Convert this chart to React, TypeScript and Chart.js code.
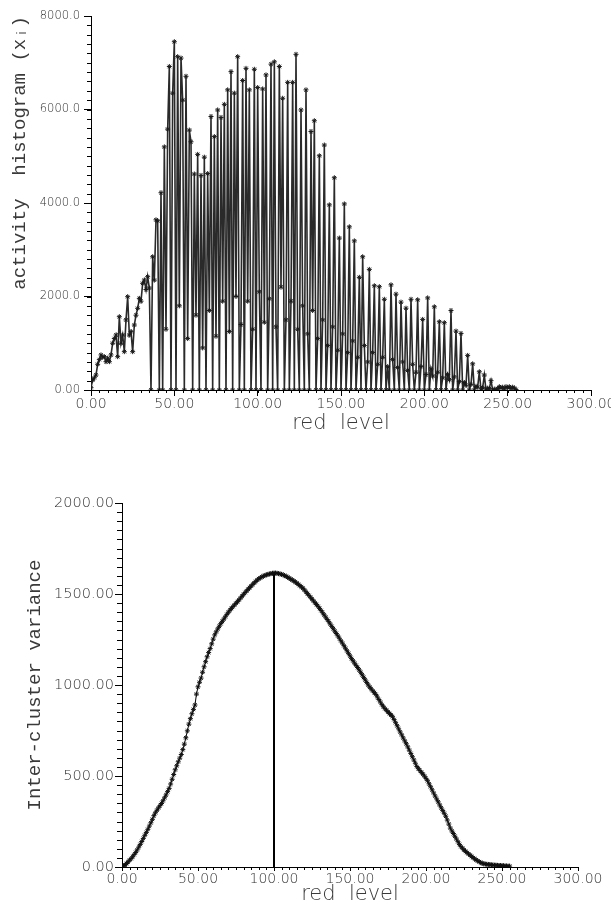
import React, { useEffect, useRef } from 'react';
import { Chart, registerables } from 'chart.js';

Chart.register(...registerables);

// ---- data -------------------------------------------------------------
// activity histogram of the red channel (levels 0..255)
const histogram: number[] = [
  50, 210, 260, 320, 550, 650, 750, 700, 713, 606,
  680, 606, 750, 1000, 1100, 1176, 713, 1568, 1000, 1176,
  820, 1500, 1996, 1176, 1248, 820, 1390, 1600, 1747, 1960,
  1900, 2282, 2353, 2150, 2424, 2181, 0, 2850, 2350, 3640,
  3620, 0, 4220, 0, 5200, 1300, 5580, 6920, 0, 6350,
  7450, 0, 7130, 1800, 7100, 6200, 0, 6710, 1100, 5560,
  5310, 0, 4620, 1600, 5040, 0, 4590, 900, 4980, 0,
  4630, 1700, 5850, 0, 5420, 1150, 5990, 0, 5830, 1900,
  6110, 0, 6420, 1250, 6810, 0, 6350, 2000, 7130, 0,
  1400, 6620, 0, 6880, 1900, 6420, 0, 1300, 6860, 0,
  6470, 2100, 0, 6440, 1450, 6740, 0, 1950, 6970, 0,
  7020, 1350, 0, 6920, 2200, 6240, 0, 1500, 6580, 0,
  1900, 6580, 0, 7180, 1300, 0, 5990, 1800, 0, 6420,
  1200, 0, 5530, 1700, 5760, 0, 1100, 5010, 0, 1500,
  5240, 0, 950, 3960, 0, 1350, 4540, 0, 850, 3250,
  0, 1200, 3980, 0, 800, 3490, 0, 1050, 3190, 0,
  700, 2410, 0, 2850, 950, 0, 600, 2580, 0, 800,
  2230, 0, 550, 2210, 0, 700, 1940, 0, 500, 0,
  2250, 650, 0, 2050, 480, 0, 1880, 600, 0, 1750,
  420, 0, 1940, 550, 0, 380, 1930, 0, 500, 1510,
  0, 330, 1970, 0, 450, 300, 1780, 0, 380, 1460,
  0, 260, 1440, 0, 330, 220, 1700, 0, 280, 1260,
  0, 180, 1210, 0, 160, 100, 740, 0, 120, 560,
  0, 80, 60, 390, 0, 50, 320, 0, 40, 30,
  200, 0, 20, 0, 30, 70, 40, 60, 20, 70,
  50, 70, 30, 60, 40, 10,
];

// inter-cluster variance for each threshold level 0..255
const variance: number[] = [
  0, 4, 11, 19, 28, 37, 46, 56, 68, 80,
  94, 109, 124, 140, 157, 174, 190, 207, 225, 243,
  262, 282, 298, 312, 325, 337, 349, 364, 380, 396,
  414, 432, 456, 482, 508, 534, 556, 578, 598, 618,
  645, 675, 710, 748, 785, 815, 842, 866, 890, 950,
  990, 1015, 1038, 1070, 1100, 1128, 1155, 1178, 1200, 1226,
  1252, 1275, 1292, 1308, 1323, 1337, 1350, 1362, 1375, 1388,
  1400, 1411, 1421, 1431, 1440, 1449, 1458, 1468, 1478, 1488,
  1498, 1508, 1517, 1526, 1535, 1544, 1553, 1561, 1569, 1577,
  1584, 1589, 1594, 1598, 1602, 1605, 1608, 1610, 1612, 1614,
  1615, 1615, 1614, 1612, 1610, 1608, 1605, 1601, 1597, 1592,
  1587, 1582, 1577, 1572, 1566, 1560, 1553, 1546, 1539, 1532,
  1522, 1512, 1502, 1492, 1482, 1472, 1462, 1452, 1442, 1432,
  1421, 1409, 1397, 1385, 1373, 1360, 1348, 1335, 1322, 1309,
  1296, 1283, 1270, 1257, 1243, 1230, 1216, 1202, 1188, 1174,
  1160, 1145, 1133, 1120, 1108, 1096, 1083, 1070, 1056, 1042,
  1028, 1014, 1000, 988, 978, 968, 958, 948, 934, 920,
  906, 892, 880, 870, 861, 852, 843, 835, 826, 810,
  793, 776, 759, 742, 726, 709, 693, 677, 660, 642,
  624, 606, 588, 570, 552, 540, 530, 520, 510, 499,
  487, 474, 457, 441, 424, 407, 390, 374, 358, 341,
  325, 310, 295, 279, 258, 236, 214, 198, 184, 169,
  154, 139, 124, 112, 103, 94, 86, 79, 72, 65,
  58, 51, 45, 39, 34, 29, 24, 20, 18, 16,
  15, 14, 13, 12, 11, 10, 10, 9, 8, 8,
  7, 7, 6, 6, 5, 5,
];

const threshold = 100;

const xTickLabels = ['0.00', '50.00', '100.00', '150.00', '200.00', '250.00', '300.00'];
const histTickLabels = ['0.00', '2000.0', '4000.0', '6000.0', '8000.0'];
const varTickLabels = ['0.00', '500.00', '1000.00', '1500.00', '2000.00'];

const histTitle = 'activity  histogram (xᵢ)';
const varTitle = 'Inter-cluster variance';
const xTitle = 'red  level';

// ---- helpers ------------------------------------------------------------
const TICK_COLOR = '#303030';
const TITLE_COLOR = '#3a3a3a';
const X_TICK_FONT = { family: 'DejaVu Sans', size: 14, weight: '200' };
const HIST_Y_FONT = { family: 'DejaVu Sans', size: 11.5, weight: '200' };
const VAR_Y_FONT = { family: 'DejaVu Sans', size: 14.5, weight: '200' };
const X_TITLE_FONT = { family: 'DejaVu Sans', size: 21, weight: '200' };
const Y_TITLE_FONT = { family: 'Liberation Mono', size: 19 };

function minorTicksPlugin(xStep: number, yStep: number, xLen: number, yLen: number) {
  return {
    id: 'minorTicks',
    afterDraw(chart: any) {
      const { ctx, chartArea, scales } = chart;
      const xs = scales.x;
      const ys = scales.y;
      ctx.save();
      ctx.strokeStyle = '#000';
      ctx.lineWidth = 1;
      ctx.beginPath();
      for (let v = xs.min; v <= xs.max + 1e-9; v += xStep) {
        const px = Math.round(xs.getPixelForValue(v)) + 0.5;
        ctx.moveTo(px, chartArea.bottom);
        ctx.lineTo(px, chartArea.bottom + xLen);
      }
      for (let v = ys.min; v <= ys.max + 1e-9; v += yStep) {
        const py = Math.round(ys.getPixelForValue(v)) + 0.5;
        ctx.moveTo(chartArea.left, py);
        ctx.lineTo(chartArea.left - yLen, py);
      }
      ctx.stroke();
      ctx.restore();
    },
  };
}

function TopChart() {
  const ref = useRef<HTMLCanvasElement | null>(null);
  useEffect(() => {
    if (!ref.current) return;
    const pts = histogram.map((v, i) => ({ x: i, y: v }));
    const chart = new Chart(ref.current, {
      type: 'line',
      data: {
        datasets: [
          {
            data: pts,
            borderColor: '#2a2a2a',
            borderWidth: 1.6,
            pointStyle: 'star',
            pointRadius: 2.5,
            pointBorderColor: '#1a1a1a',
            pointBackgroundColor: '#1a1a1a',
            pointBorderWidth: 1,
            tension: 0,
            fill: false,
          } as any,
        ],
      },
      options: {
        responsive: false,
        animation: false,
        events: [],
        layout: { padding: { left: 0, right: 49, top: 16, bottom: 12 } },
        plugins: { legend: { display: false }, tooltip: { enabled: false } },
        scales: {
          x: {
            type: 'linear',
            min: 0,
            max: 300,
            afterFit: (a: any) => { a.height = 48; },
            ticks: {
              stepSize: 50,
              autoSkip: false,
              maxRotation: 0,
              padding: 0,
              font: X_TICK_FONT,
              color: TICK_COLOR,
              callback: (_v: any, i: number) => xTickLabels[i],
            },
            grid: { drawOnChartArea: false, tickLength: 6, tickColor: '#000', color: '#000' },
            border: { display: true, color: '#000', width: 1 },
            title: {
              display: true,
              text: xTitle,
              color: TITLE_COLOR,
              font: X_TITLE_FONT,
              padding: { top: 0, bottom: 2 },
            },
          },
          y: {
            type: 'linear',
            min: 0,
            max: 8000,
            afterFit: (a: any) => { a.width = 91; },
            ticks: {
              stepSize: 2000,
              autoSkip: false,
              padding: 4,
              font: HIST_Y_FONT,
              color: TICK_COLOR,
              callback: (_v: any, i: number) => histTickLabels[i],
            },
            grid: { drawOnChartArea: false, tickLength: 7, tickColor: '#000', color: '#000' },
            border: { display: true, color: '#000', width: 1 },
            title: {
              display: true,
              text: histTitle,
              align: 'end',
              color: TITLE_COLOR,
              font: Y_TITLE_FONT,
              padding: { top: 9, bottom: 0 },
            },
          },
        },
      } as any,
      plugins: [minorTicksPlugin(5, 200, 3, 4)],
    });
    return () => chart.destroy();
  }, []);
  return (
    <canvas
      ref={ref}
      width={640}
      height={450}
      style={{ position: 'absolute', left: 0, top: 0, width: 640, height: 450 }}
    />
  );
}

function BottomChart() {
  const ref = useRef<HTMLCanvasElement | null>(null);
  useEffect(() => {
    if (!ref.current) return;
    const pts = variance.map((v, i) => ({ x: i, y: v }));
    const marker = [
      { x: threshold, y: 0 },
      { x: threshold, y: variance[threshold] },
    ];
    const chart = new Chart(ref.current, {
      type: 'line',
      data: {
        datasets: [
          {
            data: pts,
            borderColor: '#000',
            borderWidth: 1,
            pointStyle: 'star',
            pointRadius: 2.5,
            pointBorderColor: '#111',
            pointBackgroundColor: '#111',
            pointBorderWidth: 1,
            tension: 0,
            fill: false,
          } as any,
          {
            data: marker,
            borderColor: '#000',
            borderWidth: 2,
            pointRadius: 0,
            tension: 0,
            fill: false,
          } as any,
        ],
      },
      options: {
        responsive: false,
        animation: false,
        events: [],
        layout: { padding: { left: 0, right: 62, top: 48, bottom: 0 } },
        plugins: { legend: { display: false }, tooltip: { enabled: false } },
        scales: {
          x: {
            type: 'linear',
            min: 0,
            max: 300,
            afterFit: (a: any) => { a.height = 42; },
            ticks: {
              stepSize: 50,
              autoSkip: false,
              maxRotation: 0,
              padding: 0,
              font: X_TICK_FONT,
              color: TICK_COLOR,
              callback: (_v: any, i: number) => xTickLabels[i],
            },
            grid: { drawOnChartArea: false, tickLength: 4, tickColor: '#000', color: '#000' },
            border: { display: true, color: '#000', width: 1 },
            title: {
              display: true,
              text: xTitle,
              color: TITLE_COLOR,
              font: X_TITLE_FONT,
              padding: { top: 0, bottom: 2 },
            },
          },
          y: {
            type: 'linear',
            min: 0,
            max: 2000,
            afterFit: (a: any) => { a.width = 122; },
            ticks: {
              stepSize: 500,
              autoSkip: false,
              padding: 1,
              font: VAR_Y_FONT,
              color: TICK_COLOR,
              callback: (_v: any, i: number) => varTickLabels[i],
            },
            grid: { drawOnChartArea: false, tickLength: 7, tickColor: '#000', color: '#000' },
            border: { display: true, color: '#000', width: 1 },
            title: {
              display: true,
              text: varTitle,
              color: TITLE_COLOR,
              font: Y_TITLE_FONT,
              padding: { top: 24, bottom: 0 },
            },
          },
        },
      } as any,
      plugins: [minorTicksPlugin(5, 50, 3, 5)],
    });
    return () => chart.destroy();
  }, []);
  return (
    <canvas
      ref={ref}
      width={640}
      height={454}
      style={{ position: 'absolute', left: 0, top: 455, width: 640, height: 454 }}
    />
  );
}

export default function App() {
  return (
    <div
      style={{
        position: 'absolute',
        left: 0,
        top: 0,
        width: 611,
        height: 909,
        overflow: 'hidden',
        background: '#fff',
      }}
    >
      <TopChart />
      <BottomChart />
    </div>
  );
}
